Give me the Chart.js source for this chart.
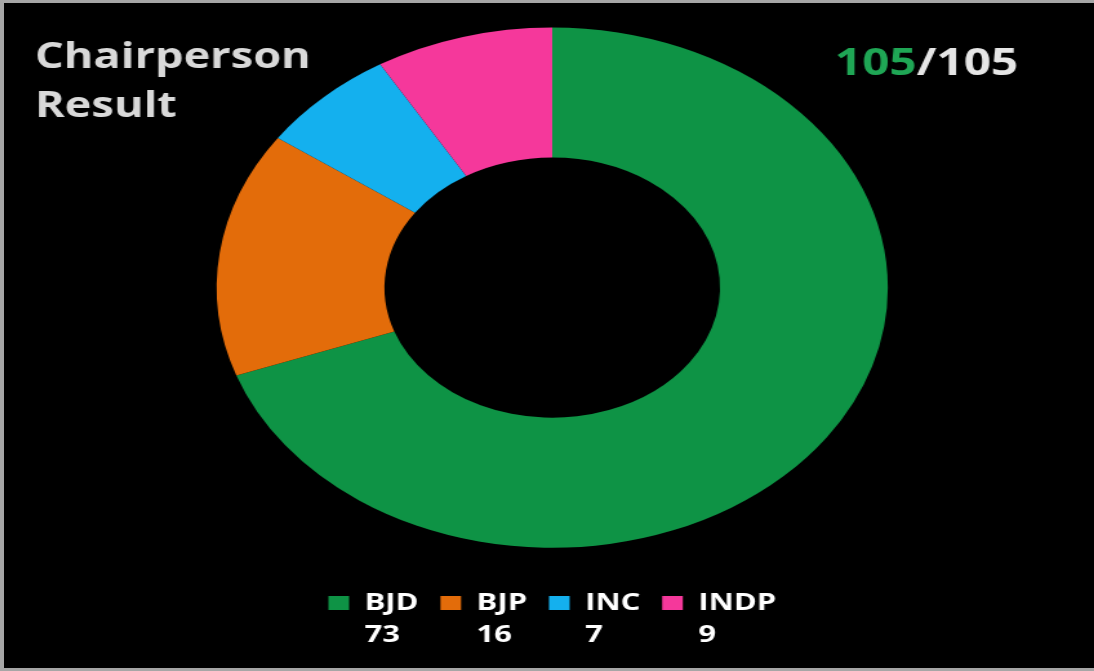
<!DOCTYPE html>
<html>
<head>
<meta charset="utf-8">
<script src="https://cdn.jsdelivr.net/npm/chart.js@4/dist/chart.umd.min.js"></script>
<style>
  html, body { margin: 0; padding: 0; background: #000; }
  #frame {
    width: 1090px; height: 665px; background: #000;
    border-left: 4px solid #a6a6a6; border-top: 3px solid #a6a6a6; border-bottom: 3px solid #a6a6a6;
    overflow: hidden;
  }
  /* the reference is stretched sideways, so draw narrow and widen */
  #wrap { width: 845px; height: 665px; transform: scaleX(1.29); transform-origin: 0 0; }
</style>
</head>
<body>
<div id="frame"><div id="wrap"><canvas id="chart"></canvas></div></div>
<script>
const parties = ["BJD", "BJP", "INC", "INDP"];
const seats = [73, 16, 7, 9];
const colors = ["#0e9345", "#e36c0a", "#14b0ee", "#f5389b"];
const won = 105;
const total = 105;

const FONT = "'Open Sans', 'DejaVu Sans', sans-serif";

const overlay = {
  id: "overlay",
  afterDraw(chart) {
    const ctx = chart.ctx;
    ctx.save();
    ctx.textBaseline = "alphabetic";
    ctx.textAlign = "left";

    ctx.font = "bold 35px " + FONT;
    ctx.fillStyle = "#d9d9d9";
    ctx.fillText("Chairperson", 24, 65);
    ctx.fillText("Result", 24, 114);

    ctx.font = "bold 37px " + FONT;
    const a = String(won);
    ctx.fillStyle = "#1fa655";
    ctx.fillText(a, 644, 72);
    const w = ctx.measureText(a).width;
    ctx.fillStyle = "#e6e6e6";
    ctx.fillText("/" + total, 644 + w, 72);

    // seat counts under each legend label
    const lg = chart.legend;
    const lab = lg.options.labels;
    ctx.font = "bold 24px " + FONT;
    ctx.fillStyle = "#ffffff";
    ctx.textBaseline = "middle";
    lg.legendHitBoxes.forEach((hb, i) => {
      const x = hb.left + lab.boxWidth + 12;
      const y = hb.top + hb.height / 2 + 32;
      ctx.fillText(String(seats[i]), x, y);
    });
    ctx.restore();
  },
};

new Chart(document.getElementById("chart"), {
  type: "doughnut",
  data: {
    labels: parties,
    datasets: [{
      data: seats,
      backgroundColor: colors,
      borderWidth: 0,
    }],
  },
  options: {
    responsive: true,
    maintainAspectRatio: false,
    animation: false,
    cutout: "50%",
    layout: { padding: { top: 24.5, bottom: 43, left: 5, right: 0 } },
    plugins: {
      tooltip: { enabled: false },
      legend: {
        position: "bottom",
        title: { display: true, text: "", font: { size: 1 }, padding: { top: 15, bottom: 10 } },
        labels: {
          color: "#ffffff",
          boxWidth: 16,
          boxHeight: 14,
          padding: 17,
          font: { family: FONT, size: 24, weight: "bold" },
        },
      },
    },
  },
  plugins: [overlay],
});
</script>
</body>
</html>
